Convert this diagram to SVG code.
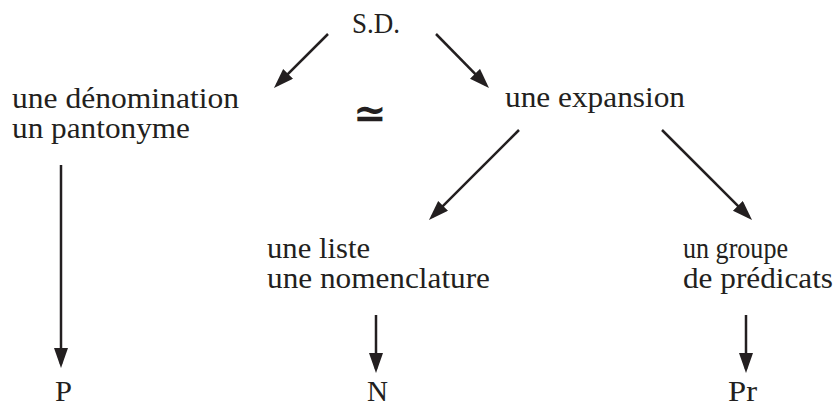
<svg xmlns="http://www.w3.org/2000/svg" width="836" height="407" viewBox="0 0 836 407">
<style>
text{font-family:"Liberation Serif","Times New Roman",serif;font-size:30px;fill:#231f20}
.c{stroke:#231f20;stroke-width:2.5;fill:none}
</style>
<defs>
<marker id="ah" markerUnits="userSpaceOnUse" markerWidth="22" markerHeight="16" refX="16" refY="7" orient="auto">
<path d="M0,0 L20,7 L0,14 z" fill="#231f20"/>
</marker>
</defs>
<rect width="836" height="407" fill="#fff"/>
<g id="sd"><text x="352" y="33" textLength="48" lengthAdjust="spacingAndGlyphs">S.D.</text></g>
<g id="denomination">
<text x="12" y="108" textLength="227" lengthAdjust="spacingAndGlyphs">une dénomination</text>
<text x="12" y="138" textLength="178" lengthAdjust="spacingAndGlyphs">un pantonyme</text>
</g>
<g id="approx"><text x="370" y="127" text-anchor="middle" style="font-family:'DejaVu Serif',serif;font-size:40px;font-weight:bold">≃</text></g>
<g id="expansion"><text x="505" y="107" textLength="180" lengthAdjust="spacingAndGlyphs">une expansion</text></g>
<g id="liste">
<text x="267" y="258" textLength="103" lengthAdjust="spacingAndGlyphs">une liste</text>
<text x="267" y="288" textLength="223" lengthAdjust="spacingAndGlyphs">une nomenclature</text>
</g>
<g id="groupe">
<text x="683" y="258" textLength="105" lengthAdjust="spacingAndGlyphs">un groupe</text>
<text x="683" y="288" textLength="150" lengthAdjust="spacingAndGlyphs">de prédicats</text>
</g>
<g id="P"><text x="55" y="401" textLength="17" lengthAdjust="spacingAndGlyphs">P</text></g>
<g id="N"><text x="367" y="401" textLength="21" lengthAdjust="spacingAndGlyphs">N</text></g>
<g id="Pr"><text x="728" y="401" textLength="29" lengthAdjust="spacingAndGlyphs">Pr</text></g>
<g id="connectors" class="c" marker-end="url(#ah)">
<line x1="328" y1="34" x2="276.8" y2="85.2"/>
<line x1="436" y1="34" x2="486.2" y2="85.2"/>
<line x1="61" y1="165" x2="61" y2="364"/>
<line x1="519" y1="130" x2="431.8" y2="217.2"/>
<line x1="662" y1="130" x2="749.2" y2="217.2"/>
<line x1="376" y1="315" x2="376" y2="369"/>
<line x1="746" y1="315" x2="746" y2="369"/>
</g>
</svg>
